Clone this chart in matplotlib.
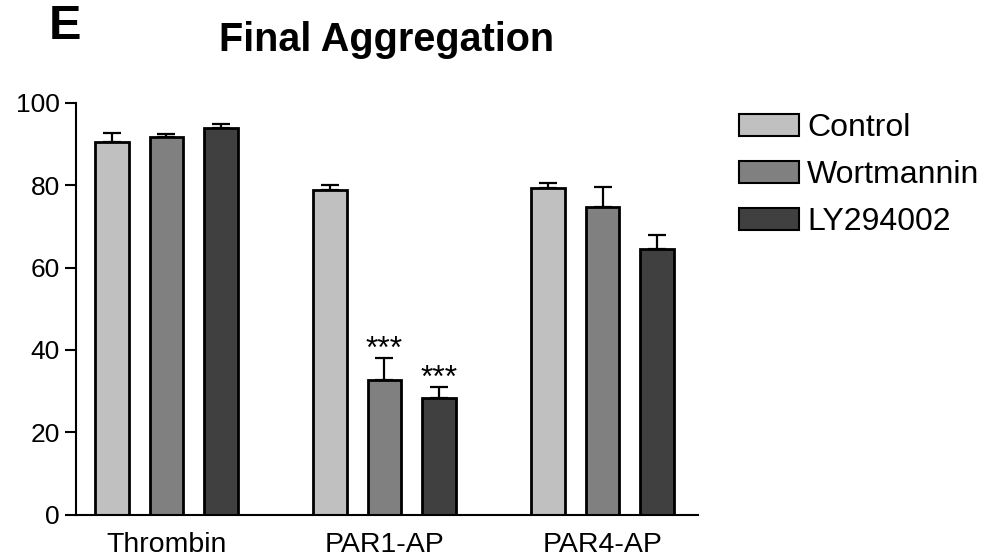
import matplotlib
matplotlib.use("Agg")
import matplotlib.pyplot as plt
import numpy as np

plt.rcParams['font.family'] = ['Liberation Sans', 'DejaVu Sans']

categories = ["Thrombin", "PAR1-AP", "PAR4-AP"]
series_names = ["Control", "Wortmannin", "LY294002"]
control_vals = [90.5, 78.8, 79.2]
control_err = [2.1, 1.2, 1.4]
wortmannin_vals = [91.7, 32.8, 74.7]
wortmannin_err = [0.6, 5.3, 4.9]
ly_vals = [93.9, 28.3, 64.6]
ly_err = [1.0, 2.7, 3.2]
wortmannin_sig = ["", "***", ""]
ly_sig = ["", "***", ""]
yticks = [0, 20, 40, 60, 80, 100]

colors = ["#c0c0c0", "#808080", "#404040"]

fig = plt.figure(figsize=(10.08, 5.6), dpi=100)
ax = fig.add_axes([76/1008, 1 - 514.7/560, 622/1008, (514.7 - 102.7)/560])

x = np.arange(len(categories))
pitch = 0.251
width = 0.154
all_vals = [control_vals, wortmannin_vals, ly_vals]
all_errs = [control_err, wortmannin_err, ly_err]
all_sig = [None, wortmannin_sig, ly_sig]

for i, (vals, errs, name, col) in enumerate(zip(all_vals, all_errs, series_names, colors)):
    pos = x + (i - 1) * pitch
    ax.bar(pos, vals, width=width, color=col, edgecolor="black", linewidth=2.0,
           label=name, zorder=2)
    ax.errorbar(pos, vals, yerr=[np.zeros(len(vals)), errs], fmt="none",
                ecolor="black", elinewidth=1.6, capsize=6.8, capthick=1.6, zorder=1)
    if all_sig[i] is not None:
        for p, v, e, s in zip(pos, vals, errs, all_sig[i]):
            if s:
                ax.annotate(s, xy=(p, v + e), xytext=(0, 0), textcoords="offset points",
                            ha="center", va="baseline", fontsize=23)

ax.set_xlim(-0.415, 2.438)
ax.set_ylim(0, 100)
ax.set_yticks(yticks)
ax.set_xticks(x)
ax.set_xticklabels(categories, fontsize=20.5)
ax.tick_params(axis="y", labelsize=19, length=8, width=1.5, pad=3.6, direction="out")
ax.tick_params(axis="x", length=0, pad=12.5)
for s in ["top", "right"]:
    ax.spines[s].set_visible(False)
for s in ["left", "bottom"]:
    ax.spines[s].set_linewidth(1.5)

leg = ax.legend(loc="upper left", bbox_to_anchor=(739/1008, 1 - 113/560),
                bbox_transform=fig.transFigure, frameon=False, fontsize=23,
                handlelength=1.88, handleheight=0.69, handletextpad=0.25,
                labelspacing=0.54, borderpad=0, borderaxespad=0)
for h in leg.get_patches():
    h.set_linewidth(1.5)

fig.text(65.5/1008, 1 - 26.5/560, "E", fontsize=35, fontweight="bold",
         ha="center", va="center")
fig.text(386.5/1008, 1 - 51/560, "Final Aggregation", fontsize=28.5,
         fontweight="bold", ha="center", va="baseline")

fig.savefig("out.png", dpi=100)
